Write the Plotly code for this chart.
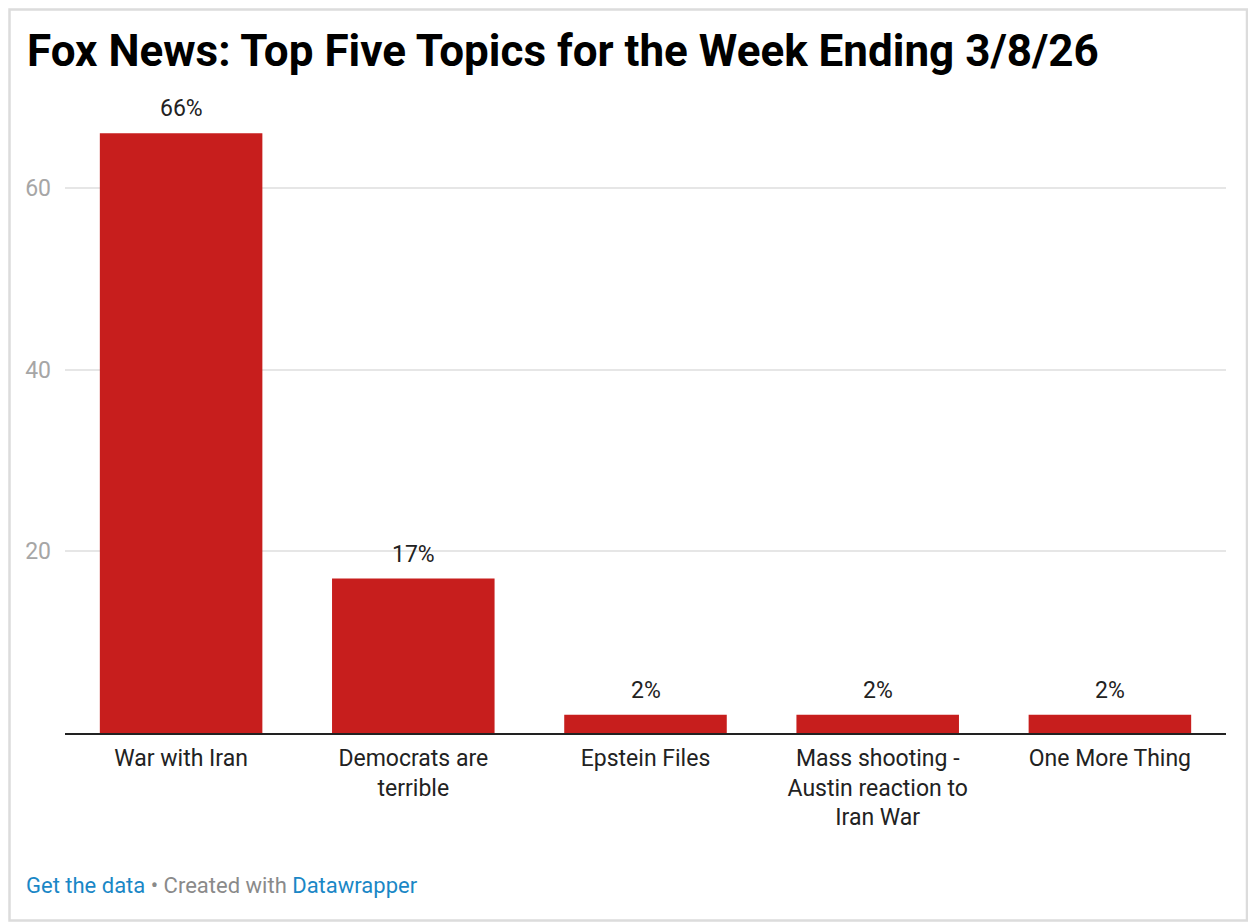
import plotly.graph_objects as go

# Data
topics = [
    "War with Iran",
    "Democrats are<br>terrible",
    "Epstein Files",
    "Mass shooting -<br>Austin reaction to<br>Iran War",
    "One More Thing",
]
shares = [66, 17, 2, 2, 2]
share_labels = ["66%", "17%", "2%", "2%", "2%"]
y_ticks = [20, 40, 60]

BAR_RED = "#c71e1d"
LINK_BLUE = "#1a87c6"
FONT = "Roboto"

# page body has an 8px margin, so the figure is 8px smaller than the window
W, H = 1248, 916
PL, PR = 57, 1218      # plot area left / right (px)
PT, PB = 89, 725       # plot area top / bottom (px)
PW, PH = PR - PL, PB - PT


def px_x(px):
    return (px - PL) / PW


def px_y(py):
    return (PB - py) / PH


fig = go.Figure()

fig.add_trace(
    go.Bar(
        x=topics,
        y=shares,
        marker_color=BAR_RED,
        marker_line_width=0,
        hoverinfo="skip",
    )
)

# value labels above the bars
for topic, val, lab in zip(topics, shares, share_labels):
    fig.add_annotation(
        x=topic, y=val, text=lab,
        xref="x", yref="y",
        showarrow=False, yanchor="bottom", yshift=9,
        font=dict(family=FONT, size=23, color="#222222"),
    )

# footer
fig.add_annotation(
    xref="paper", yref="paper",
    x=px_x(16), y=px_y(878),
    xanchor="left", yanchor="middle", showarrow=False,
    text=(f'<span style="color:{LINK_BLUE}">Get the data</span>'
          f' • Created with '
          f'<span style="color:{LINK_BLUE}">Datawrapper</span>'),
    font=dict(family=FONT, size=22, color="#8a8a8a"),
)

# light frame around the whole graphic
fig.add_shape(
    type="rect", xref="paper", yref="paper",
    x0=px_x(1.5), x1=px_x(1239),
    y0=px_y(912.5), y1=px_y(1.5),
    line=dict(color="#dcdcdc", width=2.5),
    fillcolor="rgba(0,0,0,0)", layer="below",
)

fig.update_layout(
    width=W,
    height=H,
    margin=dict(l=PL, r=W - PR, t=PT, b=H - PB),
    paper_bgcolor="white",
    plot_bgcolor="white",
    showlegend=False,
    bargap=0.3,
    title=dict(
        text="<b>Fox News: Top Five Topics for the Week Ending 3/8/26</b>",
        xref="container", yref="container",
        x=19 / W, xanchor="left",
        y=1 - 43 / H, yanchor="middle",
        font=dict(family=FONT, size=44, color="#000000"),
    ),
    font=dict(family=FONT),
)

fig.update_xaxes(
    showline=True, linecolor="#222222", linewidth=2,
    showgrid=False, ticks="", zeroline=False,
    ticklabelstandoff=3,
    tickfont=dict(family=FONT, size=23, color="#222222"),
    fixedrange=True,
)
fig.update_yaxes(
    range=[0, 70],
    tickvals=y_ticks,
    showgrid=True, gridcolor="#e6e6e6", gridwidth=1.5,
    zeroline=False, showline=False, ticks="",
    ticklabelstandoff=13,
    tickfont=dict(family=FONT, size=23, color="#a6a6a6"),
    fixedrange=True,
)

fig.write_html("out.html")
